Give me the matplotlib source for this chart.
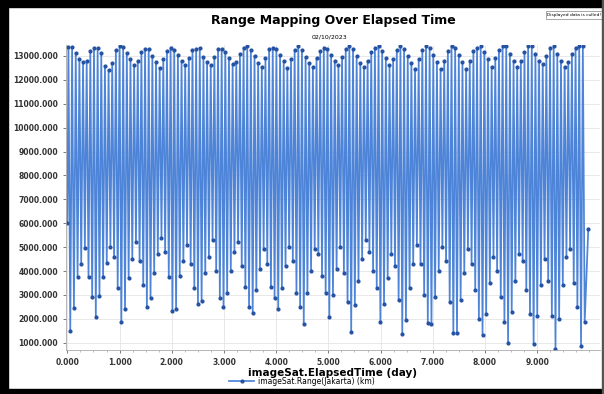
import numpy as np
import matplotlib.pyplot as plt
from matplotlib.patches import Rectangle

# range to Jakarta: start value, one peak and one trough
# per orbit, then the last sample
range_start = 6020
range_peaks = [
    13380, 13380, 13130, 12880, 12750, 12800, 13200,
    13330, 13330, 13130, 12570, 12400, 12700, 13250,
    13400, 13380, 13130, 12850, 12600, 12800, 13150,
    13300, 13300, 13000, 12750, 12500, 12850, 13200,
    13350, 13260, 13050, 12800, 12600, 12900, 13250,
    13300, 13320, 12950, 12750, 12600, 12950, 13300,
    13300, 13150, 12900, 12650, 12750, 13100, 13350,
    13400, 13250, 13000, 12700, 12550, 12900, 13300,
    13350, 13300, 13050, 12800, 12500, 12850, 13250,
    13400, 13250, 12950, 12700, 12550, 12900, 13200,
    13350, 13300, 13050, 12800, 12600, 12950, 13300,
    13400, 13300, 13000, 12700, 12550, 12800, 13150,
    13350, 13420, 13200, 12900, 12600, 12850, 13250,
    13400, 13300, 13000, 12700, 12450, 12850, 13250,
    13400, 13350, 13050, 12750, 12450, 12800, 13200,
    13420, 13350, 13050, 12750, 12450, 12800, 13200,
    13350, 13400, 13150, 12850, 12550, 12900, 13250,
    13400, 13420, 13100, 12800, 12550, 12800, 13150,
    13400, 13400, 13100, 12800, 12650, 13000,
    13350, 13400, 13100, 12800, 12550, 12750, 13100,
    13350, 13420, 13400,
]
range_troughs = [
    1500, 2460, 3760, 4300, 4950, 3750, 2920,
    2090, 2960, 3730, 4350, 5000, 4600, 3270,
    1880, 2410, 3700, 4500, 5200, 4400, 3400,
    2480, 2880, 3900, 4700, 5400, 4800, 3760,
    2340, 2400, 3800, 4400, 5100, 4300, 3300,
    2600, 2740, 3900, 4600, 5300, 4000, 2880,
    2500, 3100, 4000, 4800, 5200, 4200, 3340,
    2500, 2250, 3200, 4100, 4900, 4300, 3340,
    2880, 2420, 3300, 4200, 5000, 4400, 3100,
    2500, 1800, 3100, 4000, 4900, 4700, 3800,
    3080, 2090, 3000, 4100, 5000, 3900, 2700,
    1460, 2560, 3600, 4500, 5300, 4800, 4000,
    3300, 1880, 2600, 3700, 4700, 4200, 2800,
    1380, 1960, 3300, 4300, 5100, 4300, 3000,
    1840, 1780, 2900, 4000, 5000, 4400, 2700,
    1420, 1420, 2800, 3900, 4900, 4300, 3200,
    2000, 1330, 2200, 3500, 4600, 4000, 2900,
    1870, 1000, 2300, 3600, 4700, 4400, 3200,
    2200, 960, 2100, 3400, 4500, 3600,
    2100, 750, 2000, 3400, 4600, 4900, 3500,
    2500, 880, 1850,
]
range_end = 5770

first_peak_day = 0.02
orbit_day = 0.0699
end_day = 9.98

x_ticks = np.arange(0, 10, 1)
y_ticks = np.arange(1000, 14000, 1000)

# samples alternate peak / trough every half orbit
half = orbit_day / 2
t_ext = first_peak_day + np.arange(2 * len(range_peaks)) * half
r_ext = np.empty(2 * len(range_peaks))
r_ext[0::2] = range_peaks
r_ext[1::2] = range_troughs

t = np.concatenate([[0.0], t_ext, [end_day]])
r = np.concatenate([[range_start], r_ext, [range_end]])

fig = plt.figure(figsize=(6.04, 3.94), dpi=100)
ax = fig.add_axes([0.109, 0.112, 0.884, 0.774])

ax.plot(t, r, color='#4d84d8', lw=1.25, marker='o', ms=2.0,
        mfc='#2552a3', mec='#2552a3', label='imageSat.Range(Jakarta) (km)')

ax.set_xlim(-0.03, 10.2)
ax.set_ylim(700, 13460)
ax.set_xticks(x_ticks)
ax.set_xticklabels([f'{v:.3f}' for v in x_ticks])
ax.set_xticks(np.arange(0, 10.2, 0.25), minor=True)
ax.set_yticks(y_ticks)
ax.set_yticklabels([f'{v:.3f}' for v in y_ticks])
ax.tick_params(axis='both', labelsize=5.5, colors='#444444', length=2, width=0.5)
ax.tick_params(axis='x', which='minor', length=1.5, width=0.4, colors='#888888')
for lab in ax.get_xticklabels() + ax.get_yticklabels():
    lab.set_fontweight('bold')
    lab.set_color('#333333')

ax.grid(True, color='#e4e4e4', lw=0.6)
ax.set_axisbelow(True)
for s in ['top', 'right']:
    ax.spines[s].set_visible(False)
for s in ['left', 'bottom']:
    ax.spines[s].set_color('#aaaaaa')
    ax.spines[s].set_linewidth(0.6)

ax.set_xlabel('imageSat.ElapsedTime (day)', fontsize=7.5, fontweight='bold', labelpad=1)
ax.set_ylabel('imageSat.Range(Jakarta) (km)', fontsize=7.5, fontweight='bold', labelpad=3)

fig.text(0.552, 0.947, 'Range Mapping Over Elapsed Time', ha='center', va='center',
         fontsize=9, fontweight='bold')
fig.text(0.545, 0.906, '02/10/2023', ha='center', va='center', fontsize=4.5)

leg = fig.legend(loc='center', bbox_to_anchor=(0.5, 0.032), frameon=False,
                 fontsize=5.5, handlelength=3.2, handletextpad=0.5)

# "culled" note box top right
fig.text(0.951, 0.962, 'Displayed data is culled!', ha='center', va='center', fontsize=3.2,
         bbox=dict(boxstyle='square,pad=0.35', fc='white', ec='#999999', lw=0.6))

# black screenshot border
fig.patches.append(Rectangle((0, 0.983), 1, 0.017, transform=fig.transFigure,
                             color='black', zorder=10))
fig.patches.append(Rectangle((0, 0), 0.013, 1, transform=fig.transFigure,
                             color='black', zorder=10))
fig.patches.append(Rectangle((0, 0), 1, 0.012, transform=fig.transFigure,
                             color='black', zorder=10))
fig.patches.append(Rectangle((0.997, 0), 0.003, 1, transform=fig.transFigure,
                             color='#555555', zorder=10))

fig.savefig('out.png', dpi=100)
